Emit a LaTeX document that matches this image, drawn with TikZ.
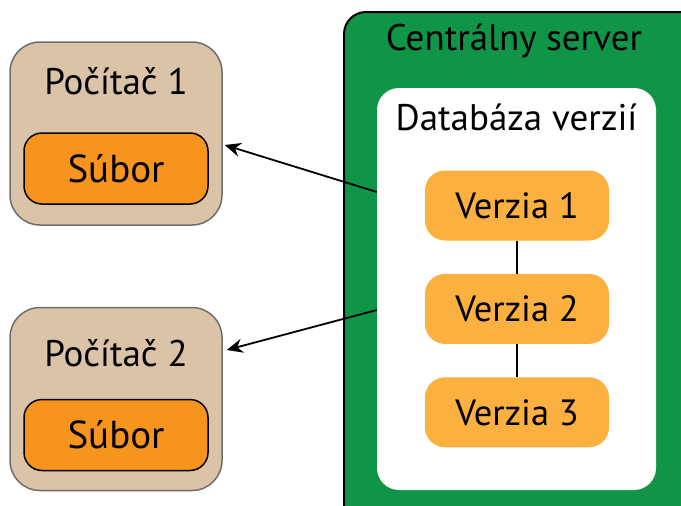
\documentclass[tikz,border=0pt]{standalone}
\usepackage{fontspec}
\setmainfont{PT Sans}
\usetikzlibrary{positioning,arrows.meta}
\definecolor{pcfill}{RGB}{219,195,168}
\definecolor{pcdraw}{RGB}{110,110,110}
\definecolor{suborfill}{RGB}{247,148,29}
\definecolor{verziafill}{RGB}{251,176,64}
\definecolor{serverfill}{RGB}{16,148,72}
\tikzset{
pc/.style={
  rectangle, rounded corners=30pt, draw=pcdraw, line width=1.5pt,
  fill=pcfill, minimum width=212pt, minimum height=183pt
  },
subor/.style={
  rectangle, rounded corners=18pt, draw=black, line width=1.5pt,
  fill=suborfill, minimum width=184pt, minimum height=71pt,
  font=\fontsize{39}{42}\selectfont
  },
server/.style={
  rectangle, rounded corners=22pt, draw=black, line width=2pt,
  fill=serverfill, minimum width=380pt, minimum height=530pt
  },
db/.style={
  rectangle, rounded corners=22pt, fill=white,
  minimum width=279pt, minimum height=402pt
  },
verzia/.style={
  rectangle, rounded corners=20pt, fill=verziafill,
  minimum width=184pt, minimum height=70pt,
  font=\fontsize{36.5}{40}\selectfont
  },
title/.style={
  inner sep=0pt, font=\fontsize{37}{40}\selectfont
  }
}

\begin{document}
\begin{tikzpicture}[x=1pt,y=1pt,>=Stealth]
\useasboundingbox (0,0) rectangle (681,-506);
\clip (0,0) rectangle (681,-506);

% central server
\node[server] (server) at (534,-277) {};
\node[title] (serverT) at ([yshift=-30pt, xshift=-20pt]server.north) {Centrálny server};
\node[db] (db) at (516.5,-289) {};
\node[title] (dbT) at ([yshift=-30pt]db.north) {Databáza verzií};

% versions
\node[verzia] (V1) at (517,-205.5) {Verzia 1};
\node[verzia, below=33pt of V1] (V2) {Verzia 2};
\node[verzia, below=33pt of V2] (V3) {Verzia 3};

\draw[line width=1.5pt] (V1) -- (V2);
\draw[line width=1.5pt] (V2) -- (V3);

% computers
\node[pc] (pc1) at (116,-133.5) {};
\node[title] (pc1T) at ([yshift=-40pt]pc1.north) {Počítač 1};
\node[subor] (S1) at (116,-168.5) {Súbor};

\node[pc] (pc2) at (116,-399) {};
\node[title] (pc2T) at ([yshift=-46pt]pc2.north) {Počítač 2};
\node[subor] (S2) at (116,-435) {Súbor};

% checkout arrows
\coordinate (db-a) at ([yshift=97pt]db.west);
\coordinate (db-b) at ([yshift=-21pt]db.west);
\coordinate (pc1-in) at ([yshift=-11.5pt, xshift=2pt]pc1.east);
\coordinate (pc2-in) at ([yshift=49pt, xshift=4pt]pc2.east);

\draw[->, line width=1.8pt, >={Stealth[length=16pt,width=14pt]}] (db-a) -- (pc1-in);
\draw[->, line width=1.8pt, >={Stealth[length=16pt,width=14pt]}] (db-b) -- (pc2-in);

\end{tikzpicture}
\end{document}
